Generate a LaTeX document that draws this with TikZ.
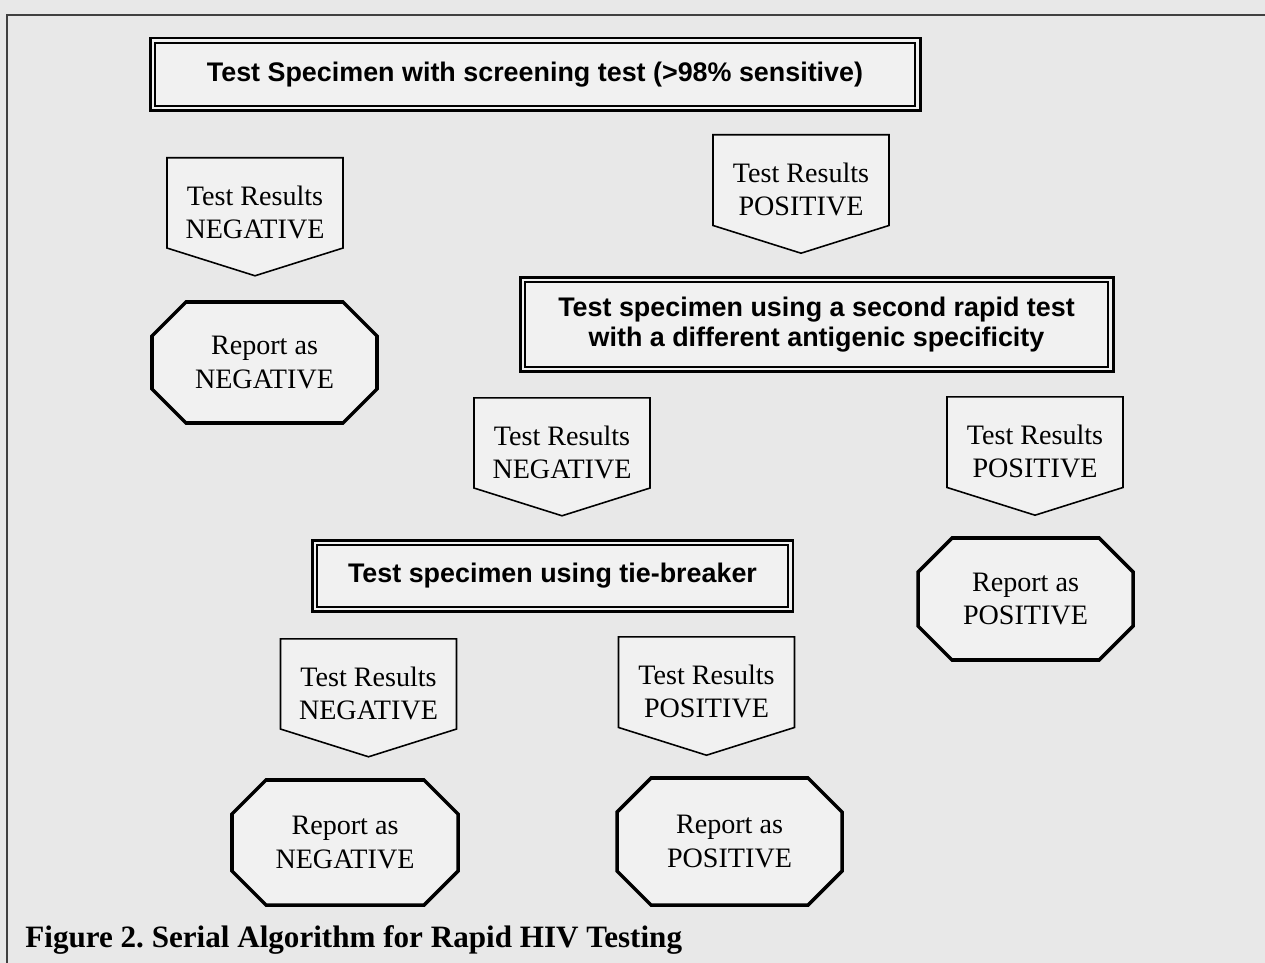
\documentclass[tikz,border=0pt]{standalone}
\usepackage{fontspec}
\setmainfont{Liberation Serif}
\newfontfamily\headfont{Liberation Sans}
\usetikzlibrary{shapes.symbols}
\definecolor{paper}{gray}{0.91}
\definecolor{panel}{gray}{0.945}
\tikzset{
  testbox/.style={draw, line width=0.8pt, double=panel, double distance=1.7pt,
    preaction={draw, line width=5.1pt}, fill=panel, align=center, inner sep=0pt,
    font=\headfont\bfseries\fontsize{15.3}{17}\selectfont},
  resultbox/.style={signal, signal to=south, signal pointer angle=145, draw,
    line width=0.9pt, fill=panel, align=center, minimum width=3.52cm,
    minimum height=2.28cm, font=\fontsize{16}{19}\selectfont},
  reportline/.style={draw, line width=2pt, fill=panel, line join=miter},
  reporttext/.style={align=center, inner sep=0pt, font=\fontsize{16}{19}\selectfont}
}
% text of a result box, set a little low
\newcommand\results[1]{\rule{0pt}{22pt}Test Results\\#1}
% octagon: name, x, y, half width, half height, text
\newcommand\reportnode[6]{%
  \draw[reportline] (#2-#4+34,#3-#5) -- (#2+#4-34,#3-#5) -- (#2+#4,#3-#5+34)
    -- (#2+#4,#3+#5-34) -- (#2+#4-34,#3+#5) -- (#2-#4+34,#3+#5)
    -- (#2-#4,#3+#5-34) -- (#2-#4,#3-#5+34) -- cycle;
  \node[reporttext] (#1) at (#2,#3) {#6};}
\begin{document}
\begin{tikzpicture}[x=0.2mm,y=-0.2mm]
  \fill[paper] (0,0) rectangle (1265,963);
  \useasboundingbox (0,0) rectangle (1265,963);
  \draw[line width=1.2pt, black!75] (7,963) -- (7,15) -- (1265,15);

  % first test
  \node[testbox, minimum width=15.28cm, minimum height=1.34cm] (screen)
    at (535,74.5) {Test Specimen with screening test (>98\% sensitive)};
  \node[resultbox, anchor=north] (neg1) at (255,157) {\results{NEGATIVE}};
  \node[resultbox, anchor=north] (pos1) at (801,134) {\results{POSITIVE}};
  \reportnode{repneg1}{264.5}{362.5}{112.5}{60.5}{Report as\\NEGATIVE}

  % second test
  \node[testbox, minimum width=11.74cm, minimum height=1.78cm] (second)
    at (816.5,324.5) {Test specimen using a second rapid test\\
    with a different antigenic specificity};
  \node[resultbox, anchor=north] (neg2) at (562,397) {\results{NEGATIVE}};
  \node[resultbox, anchor=north] (pos2) at (1035,396) {\results{POSITIVE}};
  \reportnode{reppos1}{1025.5}{599}{107.5}{61}{Report as\\POSITIVE}

  % tie-breaker
  \node[testbox, minimum width=9.5cm, minimum height=1.32cm] (tie)
    at (552.5,576) {Test specimen using tie-breaker};
  \node[resultbox, anchor=north] (neg3) at (368.5,638) {\results{NEGATIVE}};
  \node[resultbox, anchor=north] (pos3) at (706.5,636) {\results{POSITIVE}};
  \reportnode{repneg2}{345}{842.5}{113}{62.5}{Report as\\NEGATIVE}
  \reportnode{reppos2}{729.5}{841.5}{112.5}{63.5}{Report as\\POSITIVE}

  \node[anchor=base west, inner sep=0pt, font=\bfseries\fontsize{17.7}{20}\selectfont]
    (caption) at (25,947) {Figure 2.\ Serial Algorithm for Rapid HIV Testing};
\end{tikzpicture}
\end{document}
